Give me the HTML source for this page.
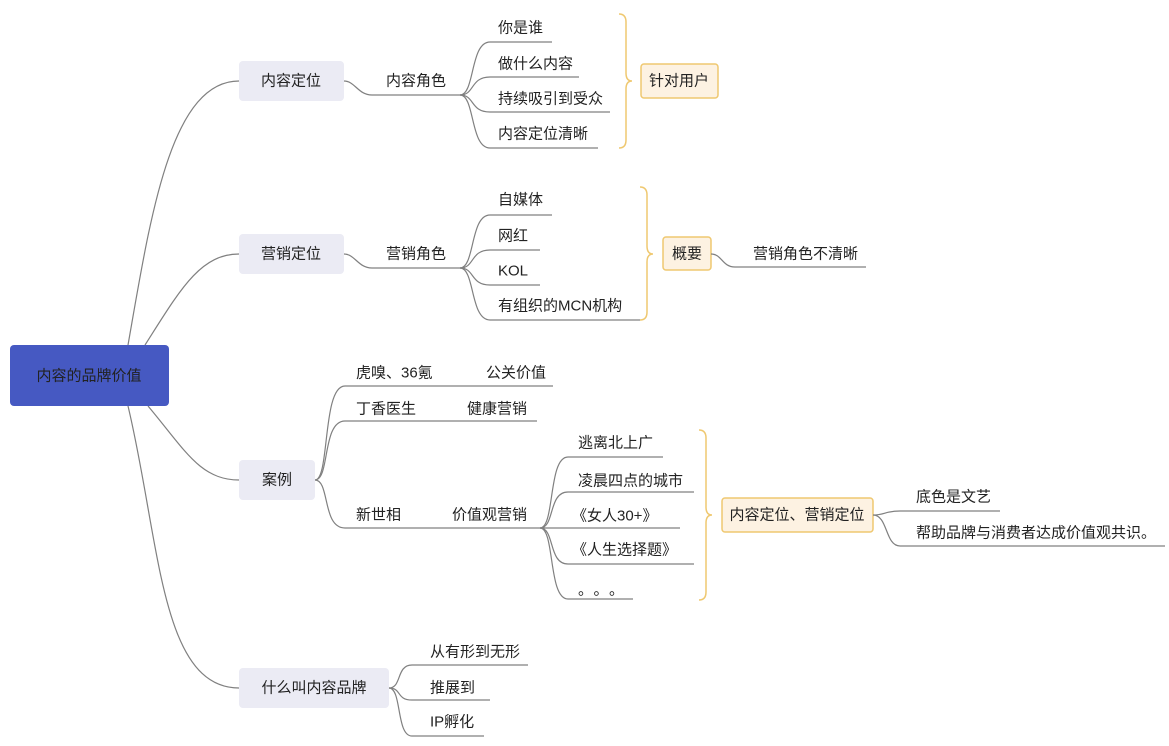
<!DOCTYPE html>
<html><head><meta charset="utf-8"><style>
html,body{margin:0;padding:0;background:#fff;}
svg text{font-family:"Liberation Sans","Noto Sans CJK SC",sans-serif;font-size:15px;fill:#222;dominant-baseline:central;}
.l{fill:none;stroke:#808080;stroke-width:1.2;}
.b{fill:none;stroke:#efc870;stroke-width:1.5;}
</style></head><body>
<svg width="1169" height="741" viewBox="0 0 1169 741" xmlns="http://www.w3.org/2000/svg">
<path class="l" d="M128 345 C150 220,170 81,239 81"/>
<path class="l" d="M145 345 C180 290,200 254,239 254"/>
<path class="l" d="M148 406 C185 450,200 480,239 480"/>
<path class="l" d="M128 406 C160 540,160 688,239 688"/>
<rect x="10" y="345" width="159" height="61" rx="4" fill="#4659c2"/>
<text x="89" y="376" text-anchor="middle">内容的品牌价值</text>

<rect x="239" y="61" width="105" height="40" rx="4" fill="#ebebf4"/>
<text x="291" y="81" text-anchor="middle">内容定位</text>
<path class="l" d="M344 81 C355 81,358 95,372 95 L460 95"/>
<text x="386" y="81">内容角色</text>
<path class="l" d="M460 95 C475 95,470 42,490 42 L552 42"/>
<path class="l" d="M460 95 C475 95,470 77,490 77 L579 77"/>
<path class="l" d="M460 95 C475 95,470 112,490 112 L610 112"/>
<path class="l" d="M460 95 C475 95,470 148,490 148 L598 148"/>
<text x="498" y="28">你是谁</text>
<text x="498" y="64">做什么内容</text>
<text x="498" y="99">持续吸引到受众</text>
<text x="498" y="134">内容定位清晰</text>
<path class="b" d="M619 14 Q626 14,626 22 L626 73 Q626 81,632 81 Q626 81,626 89 L626 140 Q626 148,619 148"/>
<rect x="641" y="64" width="77" height="34" rx="3" fill="#fdf2e2" stroke="#efc870" stroke-width="1.5"/>
<text x="679" y="81" text-anchor="middle">针对用户</text>

<rect x="239" y="234" width="105" height="40" rx="4" fill="#ebebf4"/>
<text x="291" y="254" text-anchor="middle">营销定位</text>
<path class="l" d="M344 254 C355 254,358 268,372 268 L460 268"/>
<text x="386" y="254">营销角色</text>
<path class="l" d="M460 268 C475 268,470 215,490 215 L552 215"/>
<path class="l" d="M460 268 C475 268,470 250,490 250 L540 250"/>
<path class="l" d="M460 268 C475 268,470 285,490 285 L540 285"/>
<path class="l" d="M460 268 C475 268,470 320,490 320 L640 320"/>
<text x="498" y="200">自媒体</text>
<text x="498" y="236">网红</text>
<text x="498" y="271">KOL</text>
<text x="498" y="306">有组织的MCN机构</text>
<path class="b" d="M640 187 Q647 187,647 195 L647 246 Q647 254,653 254 Q647 254,647 262 L647 312 Q647 320,640 320"/>
<rect x="663" y="237" width="48" height="33" rx="3" fill="#fdf2e2" stroke="#efc870" stroke-width="1.5"/>
<text x="687" y="254" text-anchor="middle">概要</text>
<path class="l" d="M711 254 C722 254,722 267,735 267 L866 267"/>
<text x="753" y="254">营销角色不清晰</text>

<rect x="239" y="460" width="76" height="40" rx="4" fill="#ebebf4"/>
<text x="277" y="480" text-anchor="middle">案例</text>
<path class="l" d="M315 480 C330 480,322 386,345 386 L553 386"/>
<path class="l" d="M315 480 C330 480,322 421,345 421 L537 421"/>
<path class="l" d="M315 480 C330 480,322 528,345 528 L540 528"/>
<text x="356" y="373">虎嗅、36氪</text><text x="486" y="373">公关价值</text>
<text x="356" y="409">丁香医生</text><text x="467" y="409">健康营销</text>
<text x="356" y="515">新世相</text><text x="452" y="515">价值观营销</text>
<path class="l" d="M540 528 C555 528,548 457,568 457 L663 457"/>
<path class="l" d="M540 528 C555 528,548 492,568 492 L694 492"/>
<path class="l" d="M540 528 L680 528"/>
<path class="l" d="M540 528 C555 528,548 564,568 564 L694 564"/>
<path class="l" d="M540 528 C555 528,548 599,568 599 L633 599"/>
<text x="578" y="443">逃离北上广</text>
<text x="578" y="481">凌晨四点的城市</text>
<text x="572" y="516">《女人30+》</text>
<text x="572" y="550">《人生选择题》</text>
<text x="578" y="590" letter-spacing="8">。。。</text>
<path class="b" d="M699 430 Q706 430,706 438 L706 507 Q706 515,712 515 Q706 515,706 523 L706 592 Q706 600,699 600"/>
<rect x="722" y="498" width="151" height="34" rx="3" fill="#fdf2e2" stroke="#efc870" stroke-width="1.5"/>
<text x="797" y="515" text-anchor="middle">内容定位、营销定位</text>
<path class="l" d="M873 515 C885 515,885 511,900 511 L1000 511"/>
<path class="l" d="M873 515 C888 515,885 546,900 546 L1165 546"/>
<text x="916" y="497">底色是文艺</text>
<text x="916" y="533">帮助品牌与消费者达成价值观共识。</text>

<rect x="239" y="668" width="150" height="40" rx="4" fill="#ebebf4"/>
<text x="314" y="688" text-anchor="middle">什么叫内容品牌</text>
<path class="l" d="M389 688 C402 688,396 665,412 665 L528 665"/>
<path class="l" d="M389 688 C402 688,396 700,412 700 L490 700"/>
<path class="l" d="M389 688 C402 688,396 736,412 736 L484 736"/>
<text x="430" y="652">从有形到无形</text>
<text x="430" y="688">推展到</text>
<text x="430" y="722">IP孵化</text>
</svg>
</body></html>
